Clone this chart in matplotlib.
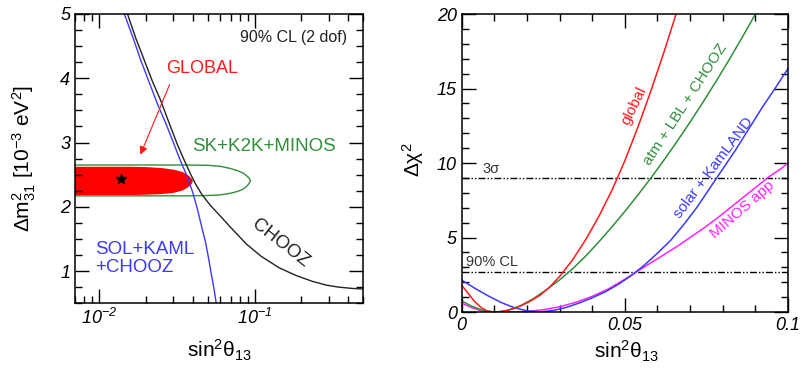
import math
import matplotlib
matplotlib.use("Agg")
import matplotlib.pyplot as plt
from matplotlib.ticker import MultipleLocator, LogLocator, FixedLocator, FuncFormatter, NullFormatter

plt.rcParams["font.family"] = ["Liberation Sans", "DejaVu Sans"]
plt.rcParams["mathtext.fontset"] = "custom"
plt.rcParams["mathtext.rm"] = "Liberation Sans"
plt.rcParams["mathtext.it"] = "Liberation Sans:italic"
plt.rcParams["mathtext.bf"] = "Liberation Sans:bold"

# ---- left panel: allowed regions in (sin^2 theta13, dm^2_31) ----
global_x = [0.006, 0.015, 0.020, 0.025, 0.030, 0.034, 0.037, 0.039, 0.0398]
global_hi = [2.63, 2.63, 2.625, 2.61, 2.585, 2.55, 2.50, 2.45, 2.41]
global_lo = [2.19, 2.19, 2.195, 2.205, 2.225, 2.26, 2.31, 2.36, 2.41]

atm_x = [0.006, 0.035, 0.050, 0.060, 0.070, 0.078, 0.085, 0.090, 0.0925, 0.094]
atm_hi = [2.65, 2.65, 2.645, 2.63, 2.595, 2.56, 2.52, 2.47, 2.44, 2.41]
atm_lo = [2.17, 2.17, 2.175, 2.185, 2.21, 2.24, 2.28, 2.33, 2.37, 2.41]

best_fit = (0.0138, 2.43)

chooz_x = [0.0152, 0.0172, 0.0195, 0.0220, 0.0248, 0.0282, 0.0317, 0.0350, 0.0385,
           0.0420, 0.0458, 0.0520, 0.0599, 0.0700, 0.0802, 0.0885, 0.110, 0.144,
           0.185, 0.235, 0.290, 0.347, 0.420, 0.500]
chooz_y = [5.0, 4.62, 4.28, 3.95, 3.66, 3.30, 2.98, 2.74, 2.52,
           2.34, 2.19, 2.02, 1.86, 1.68, 1.53, 1.42, 1.23, 1.05,
           0.93, 0.84, 0.78, 0.75, 0.73, 0.72]

sol_x = [0.0145, 0.0165, 0.0185, 0.0210, 0.0237, 0.0270, 0.0302, 0.0335, 0.0367,
         0.0400, 0.0430, 0.0458, 0.0483, 0.0505, 0.0525, 0.0548, 0.0566]
sol_y = [5.0, 4.63, 4.28, 3.93, 3.60, 3.28, 2.98, 2.70, 2.48,
         2.22, 1.95, 1.67, 1.45, 1.20, 0.97, 0.72, 0.5]

# ---- right panel: delta chi^2 profiles ----
glob_s = [0, 0.002, 0.004, 0.006, 0.008, 0.010, 0.012, 0.015, 0.018, 0.021, 0.024,
          0.027, 0.030, 0.034, 0.038, 0.042, 0.046, 0.050, 0.054, 0.058, 0.062, 0.0657]
glob_chi = [1.8, 1.25, 0.7, 0.3, 0.05, 0.0, 0.03, 0.16, 0.4, 0.72, 1.12,
            1.68, 2.38, 3.5, 4.85, 6.4, 8.15, 10.15, 12.4, 14.85, 17.45, 20.0]

atm_s = [0, 0.003, 0.006, 0.009, 0.011, 0.014, 0.018, 0.022, 0.026, 0.030, 0.034,
         0.038, 0.042, 0.046, 0.050, 0.054, 0.058, 0.062, 0.066, 0.070, 0.074,
         0.078, 0.082, 0.086, 0.090]
atm_chi = [0.75, 0.4, 0.15, 0.02, 0.0, 0.1, 0.42, 0.9, 1.5, 2.15, 2.9,
           3.75, 4.7, 5.7, 6.75, 7.85, 9.0, 10.2, 11.45, 12.75, 14.1,
           15.5, 16.95, 18.45, 20.0]

sol_s = [0, 0.004, 0.008, 0.012, 0.016, 0.020, 0.024, 0.028, 0.032, 0.036, 0.040,
         0.044, 0.048, 0.052, 0.056, 0.060, 0.064, 0.068, 0.072, 0.076, 0.080,
         0.084, 0.088, 0.092, 0.096, 0.100]
sol_chi = [2.15, 1.6, 1.1, 0.65, 0.3, 0.08, 0.0, 0.1, 0.3, 0.6, 0.95,
           1.35, 1.85, 2.45, 3.15, 3.95, 4.8, 5.85, 7.0, 8.3, 9.6,
           10.9, 12.3, 13.7, 15.0, 16.35]

minos_s = [0, 0.003, 0.006, 0.010, 0.015, 0.020, 0.025, 0.030, 0.035, 0.040, 0.045,
           0.050, 0.054, 0.058, 0.062, 0.066, 0.070, 0.074, 0.078, 0.082, 0.086,
           0.090, 0.094, 0.098, 0.100]
minos_chi = [0.6, 0.3, 0.08, 0.0, 0.0, 0.03, 0.15, 0.35, 0.65, 1.05, 1.55,
             2.2, 2.75, 3.3, 3.85, 4.4, 5.0, 5.6, 6.25, 6.95, 7.65,
             8.35, 9.05, 9.65, 10.0]

cl_levels = [9.0, 2.71]
cl_labels = ["3σ", "90% CL"]

RED = "#ff1a1a"
GREEN = "#2f8f3a"
BLUE = "#3a3aff"
MAGENTA = "#ff22ff"
DASHDOT = (0, (5, 1.5, 1, 1.5, 1, 1.5))


def style_axes(ax):
    for sp in ax.spines.values():
        sp.set_linewidth(1.1)
    ax.tick_params(which="both", direction="in", top=True, right=True,
                   labelsize=13, width=1.0)
    ax.tick_params(which="major", length=10)
    ax.tick_params(which="minor", length=5)


fig = plt.figure(figsize=(8, 3.78), dpi=100)

# left: allowed regions
ax1 = fig.add_axes([0.094, 0.198, 0.36, 0.765])
ax1.set_xscale("log")
ax1.set_xlim(0.007, 0.5)
ax1.set_ylim(0.5, 5)

ax1.fill_between(global_x, global_lo, global_hi, color="#ff0000", lw=0)
ax1.plot(atm_x + atm_x[::-1], atm_hi + atm_lo[::-1], color=GREEN, lw=1.0)
ax1.plot(chooz_x, chooz_y, color="#222222", lw=1.0)
ax1.plot(sol_x, sol_y, color=BLUE, lw=1.0)
ax1.plot(*best_fit, marker="*", color="black", ms=7, ls="none")

ax1.xaxis.set_major_locator(FixedLocator([0.01, 0.1]))
ax1.xaxis.set_minor_locator(LogLocator(base=10, subs=range(2, 10)))
ax1.xaxis.set_major_formatter(
    FuncFormatter(lambda v, p: r"$\mathdefault{10^{%d}}$" % round(math.log10(v))))
ax1.xaxis.set_minor_formatter(NullFormatter())
ax1.yaxis.set_major_locator(FixedLocator([1, 2, 3, 4, 5]))
ax1.yaxis.set_major_formatter(FuncFormatter(lambda v, p: "%d" % v))
ax1.yaxis.set_minor_locator(MultipleLocator(0.25))
style_axes(ax1)

ax1.set_xlabel(r"$\mathregular{sin^2\theta_{13}}$", fontsize=15)
ax1.xaxis.set_label_coords(0.5, -0.12)
ax1.set_ylabel(r"$\mathregular{\Delta m^2_{31}\ [10^{-3}\ eV^2]}$", fontsize=15)
ax1.yaxis.set_label_coords(-0.13, 0.5)

ax1.text(0.944, 0.919, "90% CL (2 dof)", transform=ax1.transAxes,
         ha="right", va="center", fontsize=11.5, color="#222222")
ax1.text(0.44, 0.812, "GLOBAL", transform=ax1.transAxes,
         ha="center", va="center", fontsize=13, color=RED)
ax1.annotate("", xy=(0.0181, 2.77), xytext=(0.0288, 3.94),
             arrowprops=dict(arrowstyle="-|>", color=RED, lw=0.8,
                             mutation_scale=12))
ax1.text(0.654, 0.541, "SK+K2K+MINOS", transform=ax1.transAxes,
         ha="center", va="center", fontsize=13.5, color=GREEN)
ax1.text(0.712, 0.207, "CHOOZ", transform=ax1.transAxes, rotation=-38,
         ha="center", va="center", fontsize=13.5, color="#222222")
ax1.text(0.069, 0.186, "SOL+KAML", transform=ax1.transAxes,
         ha="left", va="center", fontsize=13.5, color=BLUE)
ax1.text(0.069, 0.122, "+CHOOZ", transform=ax1.transAxes,
         ha="left", va="center", fontsize=13.5, color=BLUE)

# right: delta chi^2 vs sin^2 theta13
ax2 = fig.add_axes([0.577, 0.1746, 0.408, 0.788])
ax2.set_xlim(0, 0.1)
ax2.set_ylim(0, 20)

for lvl in cl_levels:
    ax2.axhline(lvl, color="black", lw=1.0, ls=DASHDOT)
ax2.plot(minos_s, minos_chi, color=MAGENTA, lw=1.1)
ax2.plot(sol_s, sol_chi, color=BLUE, lw=1.1)
ax2.plot(atm_s, atm_chi, color=GREEN, lw=1.1)
ax2.plot(glob_s, glob_chi, color=RED, lw=1.1)

ax2.xaxis.set_major_locator(FixedLocator([0, 0.05, 0.1]))
ax2.xaxis.set_major_formatter(FuncFormatter(lambda v, p: "%g" % round(v, 3)))
ax2.xaxis.set_minor_locator(MultipleLocator(0.01))
ax2.yaxis.set_major_locator(MultipleLocator(5))
ax2.yaxis.set_major_formatter(FuncFormatter(lambda v, p: "%d" % v))
ax2.yaxis.set_minor_locator(MultipleLocator(1))
style_axes(ax2)

ax2.set_xlabel(r"$\mathregular{sin^2\theta_{13}}$", fontsize=15)
ax2.xaxis.set_label_coords(0.506, -0.09)
ax2.set_ylabel(r"$\mathregular{\Delta\chi^2}$", fontsize=15)
ax2.yaxis.set_label_coords(-0.11, 0.51)

ax2.text(0.065, 9.15, cl_labels[0], ha="left", va="bottom", fontsize=10.5,
         color="#333333", transform=ax2.get_yaxis_transform())
ax2.text(0.015, 2.86, cl_labels[1], ha="left", va="bottom", fontsize=10.5,
         color="#333333", transform=ax2.get_yaxis_transform())

ax2.text(0.528, 0.691, "global", transform=ax2.transAxes, rotation=64,
         ha="center", va="center", fontsize=11, color=RED)
ax2.text(0.684, 0.698, "atm + LBL + CHOOZ", transform=ax2.transAxes, rotation=57,
         ha="center", va="center", fontsize=11, color=GREEN)
ax2.text(0.773, 0.483, "solar + KamLAND", transform=ax2.transAxes, rotation=53,
         ha="center", va="center", fontsize=11, color=BLUE)
ax2.text(0.861, 0.342, "MINOS app", transform=ax2.transAxes, rotation=41,
         ha="center", va="center", fontsize=11, color=MAGENTA)

# tick numbers are set in italic once the ticks exist
fig.canvas.draw()
for ax in (ax1, ax2):
    for lab in ax.get_xticklabels() + ax.get_yticklabels():
        lab.set_fontstyle("italic")

fig.savefig("out.png", dpi=100)
